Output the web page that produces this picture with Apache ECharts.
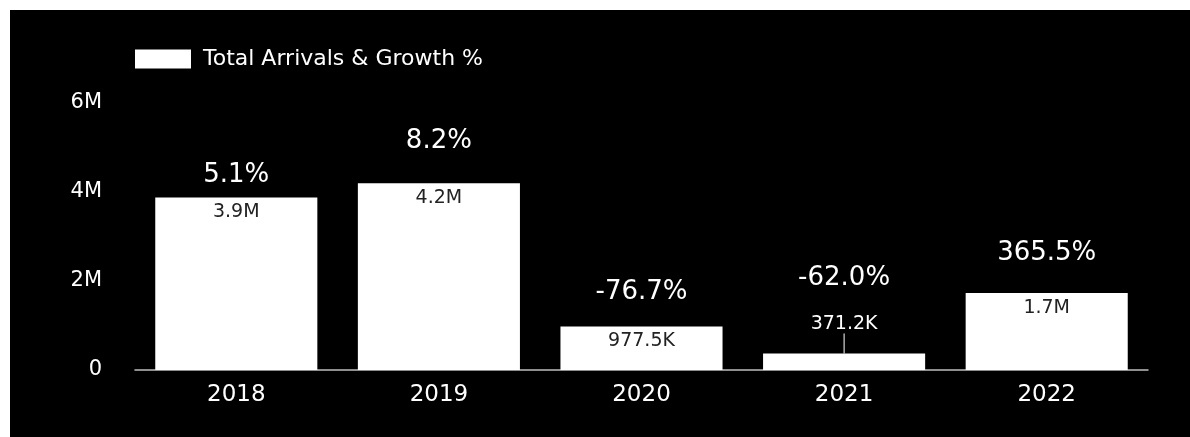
<!DOCTYPE html>
<html>
<head>
<meta charset="utf-8">
<script src="https://cdn.jsdelivr.net/npm/echarts@6/dist/echarts.min.js"></script>
<style>
  html, body { margin: 0; padding: 0; background: #ffffff; }
  #chart { position: absolute; left: 10px; top: 10px; width: 1180px; height: 427px; background: #000000; }
</style>
</head>
<body>
<div id="chart"></div>
<script>
const categories = ['2018', '2019', '2020', '2021', '2022'];
const arrivals = [3877000, 4195000, 977500, 371200, 1728000];
const growthPct = [5.1, 8.2, -76.7, -62.0, 365.5];
const yTicks = [0, 2000000, 4000000, 6000000];

// label spacing above each bar (layout only)
const growthGap = [9, 29, 21, 62, 27];

function fmtValue(v) {
  if (v >= 1e6) return (v / 1e6).toFixed(1) + 'M';
  if (v >= 1e3) return (v / 1e3).toFixed(1) + 'K';
  return String(v);
}
function fmtAxis(v) {
  if (v === 0) return '0';
  return (v / 1e6) + 'M';
}

const FONT = 'DejaVu Sans';
const chart = echarts.init(document.getElementById('chart'));

const valueData = arrivals.map((v, i) => {
  const item = { value: v };
  if (v < 600000) {
    item.label = { position: 'insideTop', color: '#ffffff' };
  }
  return item;
});

const growthData = arrivals.map((v, i) => ({
  value: v,
  label: { distance: growthGap[i] }
}));

chart.setOption({
  backgroundColor: '#000000',
  animation: false,
  textStyle: { fontFamily: FONT },
  legend: {
    left: 125,
    top: 38,
    padding: 0,
    itemWidth: 56,
    itemHeight: 19,
    icon: 'rect',
    data: ['Total Arrivals & Growth %'],
    textStyle: { color: '#ffffff', fontSize: 22, fontFamily: FONT, padding: [0, 0, 0, 7] }
  },
  grid: { left: 125, right: 42, top: 93, bottom: 67, containLabel: false },
  xAxis: {
    type: 'category',
    data: categories,
    axisLine: { show: true, lineStyle: { color: '#bfbfbf', width: 1.5 } },
    axisTick: { show: false },
    axisLabel: { color: '#ffffff', fontSize: 23, margin: 14, fontFamily: FONT }
  },
  yAxis: {
    type: 'value',
    min: yTicks[0],
    max: yTicks[yTicks.length - 1],
    interval: yTicks[1] - yTicks[0],
    splitLine: { show: false },
    axisLine: { show: false },
    axisTick: { show: false },
    axisLabel: { color: '#ffffff', fontSize: 21, margin: 33, fontFamily: FONT, formatter: fmtAxis }
  },
  series: [
    {
      name: 'Total Arrivals & Growth %',
      type: 'bar',
      barWidth: '80%',
      data: valueData,
      itemStyle: { color: '#ffffff' },
      label: {
        show: true,
        position: 'insideTop',
        distance: 5,
        color: '#222222',
        fontSize: 19,
        fontFamily: FONT,
        formatter: p => fmtValue(p.value)
      },
      labelLayout: function (params) {
        if (arrivals[params.dataIndex] < 600000) {
          return { dy: -44 };
        }
        return {};
      },
      labelLine: { show: true, lineStyle: { color: '#ffffff', width: 1 } }
    },
    {
      name: 'growth',
      type: 'bar',
      barWidth: '80%',
      barGap: '-100%',
      data: growthData,
      itemStyle: { color: 'rgba(0,0,0,0)' },
      silent: true,
      label: {
        show: true,
        position: 'top',
        color: '#ffffff',
        fontSize: 26,
        fontFamily: FONT,
        formatter: p => growthPct[p.dataIndex].toFixed(1) + '%'
      }
    }
  ]
});
</script>
</body>
</html>
